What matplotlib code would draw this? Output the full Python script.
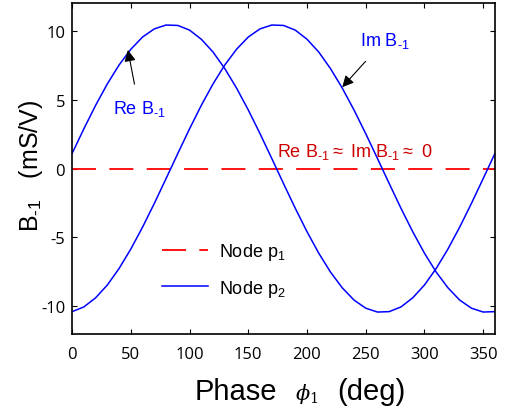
import matplotlib
matplotlib.use("Agg")
import matplotlib.pyplot as plt
from matplotlib.offsetbox import TextArea, HPacker, AnchoredOffsetbox

# phase in degrees (mS/V)
phase = [0, 10, 20, 30, 40, 50, 60, 70, 80, 90, 100, 110, 120, 130, 140, 150, 160, 170, 180,
         190, 200, 210, 220, 230, 240, 250, 260, 270, 280, 290, 300, 310, 320, 330, 340, 350, 360]
reB = [1.09, 2.88, 4.58, 6.14, 7.51, 8.65, 9.54, 10.13, 10.41, 10.38, 10.04, 9.38, 8.45, 7.25,
       5.84, 4.25, 2.53, 0.73, -1.09, -2.88, -4.58, -6.14, -7.51, -8.65, -9.54, -10.13, -10.41,
       -10.38, -10.04, -9.38, -8.45, -7.25, -5.84, -4.25, -2.53, -0.73, 1.09]
imB = [-10.38, -10.04, -9.38, -8.45, -7.25, -5.84, -4.25, -2.53, -0.73, 1.09, 2.88, 4.58, 6.14,
       7.51, 8.65, 9.54, 10.13, 10.41, 10.38, 10.04, 9.38, 8.45, 7.25, 5.84, 4.25, 2.53, 0.73,
       -1.09, -2.88, -4.58, -6.14, -7.51, -8.65, -9.54, -10.13, -10.41, -10.38]
nodeP1 = [0.0] * len(phase)

xTicks = [0, 50, 100, 150, 200, 250, 300, 350]
yTicks = [-10, -5, 0, 5, 10]

plt.rcParams["font.family"] = ["Liberation Sans", "DejaVu Sans"]
plt.rcParams["mathtext.fontset"] = "custom"
plt.rcParams["mathtext.rm"] = "Liberation Sans"
plt.rcParams["mathtext.it"] = "DejaVu Serif:italic"
plt.rcParams["mathtext.sf"] = "DejaVu Serif"
plt.rcParams["axes.unicode_minus"] = False
plt.rcParams["lines.scale_dashes"] = False

sub = "$_{\\text{-1}}$"

fig = plt.figure(figsize=(5.15, 4.1), dpi=100)
ax = fig.add_axes([0.140, 0.183, 0.821, 0.807])

ax.plot(phase, nodeP1, color="#ff0000", lw=1.3, dashes=(17.3, 9.6), label="Node p$_1$")
ax.plot(phase, reB, color="#0000ff", lw=1.1, label="Node p$_2$")
ax.plot(phase, imB, color="#0000ff", lw=1.1)

ax.set_xlim(0, 360)
ax.set_ylim(-12, 12)
ax.set_xticks(xTicks, labels=[str(v) for v in xTicks], fontfamily="Open Sans", fontsize=12)
ax.set_yticks(yTicks, labels=[str(v) for v in yTicks], fontfamily="Open Sans", fontsize=12)
ax.tick_params(direction="in", length=3.5, width=0.8, top=True, right=True)
ax.tick_params(axis="x", pad=9)
ax.tick_params(axis="y", pad=5)
for s in ax.spines.values():
    s.set_linewidth(1.2)

ax.set_ylabel("B" + sub + "   (mS/V)", fontsize=18)
ax.yaxis.set_label_coords(-0.064, 0.51)

# x label: "Phase", a smaller serif phi_1, "(deg)"
parts = [TextArea("Phase", textprops=dict(fontsize=21)),
         TextArea("$\\phi_{\\mathsf{1}}$", textprops=dict(fontsize=15)),
         TextArea("(deg)", textprops=dict(fontsize=21))]
xlab = AnchoredOffsetbox(loc="upper center", child=HPacker(children=parts, sep=13, align="baseline"),
                         pad=0, frameon=False, bbox_to_anchor=(0.539, -0.13),
                         bbox_transform=ax.transAxes, borderpad=0)
ax.add_artist(xlab)

ax.annotate("Re B" + sub, xy=(47.5, 8.6), xytext=(57, 4.4), color="#0000ff", fontsize=13,
            ha="center", va="center",
            arrowprops=dict(arrowstyle="-|>", color="black", lw=0.8, mutation_scale=17,
                            shrinkA=8, shrinkB=0))
ax.annotate("Im B" + sub, xy=(230, 5.9), xytext=(266, 9.3), color="#0000ff", fontsize=13,
            ha="center", va="center",
            arrowprops=dict(arrowstyle="-|>", color="black", lw=0.8, mutation_scale=17,
                            shrinkA=8, shrinkB=0))
ax.text(241, 0.55, "Re B" + sub + "$\\approx$ Im B" + sub + "$\\approx$ 0", color="#cc0000",
        fontsize=13, ha="center", va="bottom")

ax.legend(loc="center left", bbox_to_anchor=(0.175, 0.193), frameon=False, fontsize=13,
          handlelength=2.55, handletextpad=0.6, labelspacing=0.85)

fig.savefig("out.png", dpi=100)
